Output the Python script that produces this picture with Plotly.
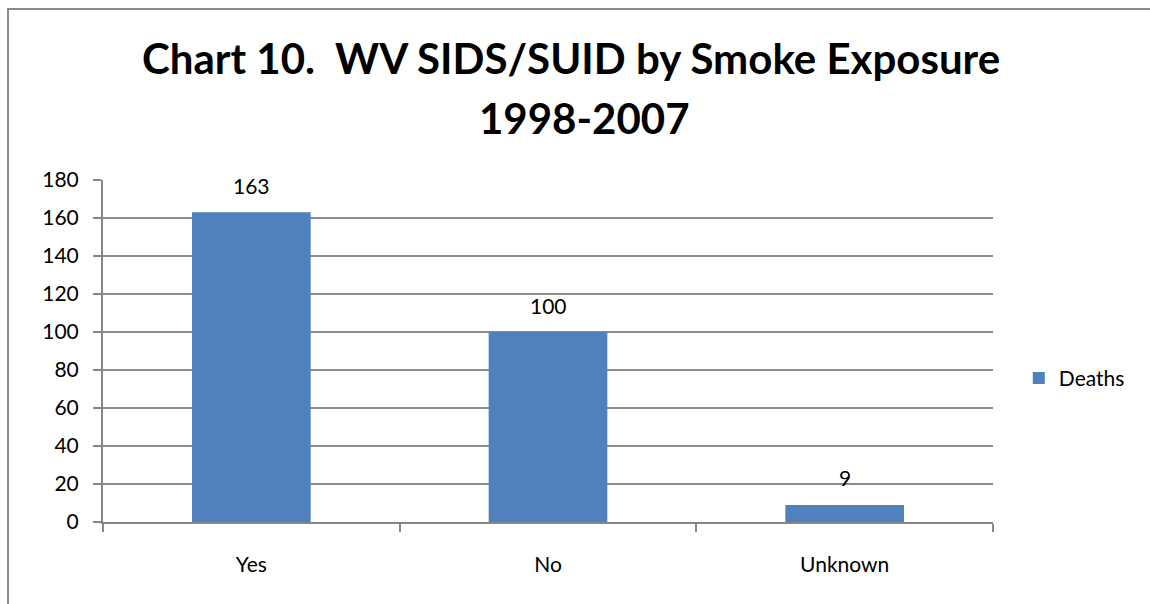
import plotly.graph_objects as go

# Deaths by smoke exposure category
categories = ["Yes", "No", "Unknown"]
deaths = [163, 100, 9]
y_ticks = [0, 20, 40, 60, 80, 100, 120, 140, 160, 180]

title_lines = ["Chart 10.  WV SIDS/SUID by Smoke Exposure", "1998-2007"]

BAR_COLOR = "#4F81BD"
GRID_COLOR = "#8C8C8C"
AXIS_COLOR = "#868686"
FONT = "Lato, 'Open Sans', sans-serif"

fig = go.Figure()
fig.add_trace(go.Bar(
    x=categories,
    y=deaths,
    name="Deaths",
    marker=dict(color=BAR_COLOR, line=dict(width=0)),
    showlegend=True,
))

# value labels sitting above each bar
for cat, val in zip(categories, deaths):
    fig.add_annotation(
        x=cat, y=val, text=str(val), showarrow=False,
        yanchor="middle", yshift=27,
        font=dict(family=FONT, size=21, color="#000000"),
    )

# two-line bold heading
for text, xp, yp in zip(title_lines, [0.526, 0.541], [1.358, 1.18]):
    fig.add_annotation(
        xref="paper", yref="paper", x=xp, y=yp,
        xanchor="center", yanchor="middle",
        text=f"<b>{text}</b>", showarrow=False,
        font=dict(family=FONT, size=42, color="#000000"),
    )

# chart frame (left and top edges visible within the page)
fig.add_shape(
    type="rect", xref="paper", yref="paper",
    x0=-0.1067, x1=1.4, y0=-0.5, y1=1.5,
    line=dict(color="#8A8A8A", width=2), fillcolor="rgba(0,0,0,0)",
    layer="below",
)

fig.update_layout(
    width=1150, height=604,
    margin=dict(l=103, r=157, t=180, b=82),
    paper_bgcolor="white", plot_bgcolor="white",
    bargap=0.6,
    font=dict(family=FONT, size=21, color="#000000"),
    legend=dict(
        x=1.029, xanchor="left", y=0.42, yanchor="middle",
        font=dict(family=FONT, size=21, color="#000000"),
        bgcolor="rgba(0,0,0,0)",
    ),
    xaxis=dict(
        type="category",
        showline=True, linecolor=AXIS_COLOR, linewidth=2,
        ticks="outside", ticklen=8, tickcolor=AXIS_COLOR, tickwidth=2,
        tickson="boundaries",
        ticklabelstandoff=23,
        showgrid=False,
        tickfont=dict(family=FONT, size=21, color="#000000"),
    ),
    yaxis=dict(
        range=[0, 180],
        tickvals=y_ticks,
        showline=True, linecolor=AXIS_COLOR, linewidth=2,
        ticks="outside", ticklen=8, tickcolor=AXIS_COLOR, tickwidth=2,
        showgrid=True, gridcolor=GRID_COLOR, gridwidth=1.5,
        zeroline=False,
        ticklabelstandoff=10,
        tickfont=dict(family=FONT, size=21, color="#000000"),
    ),
)

fig.write_html("out.html")
